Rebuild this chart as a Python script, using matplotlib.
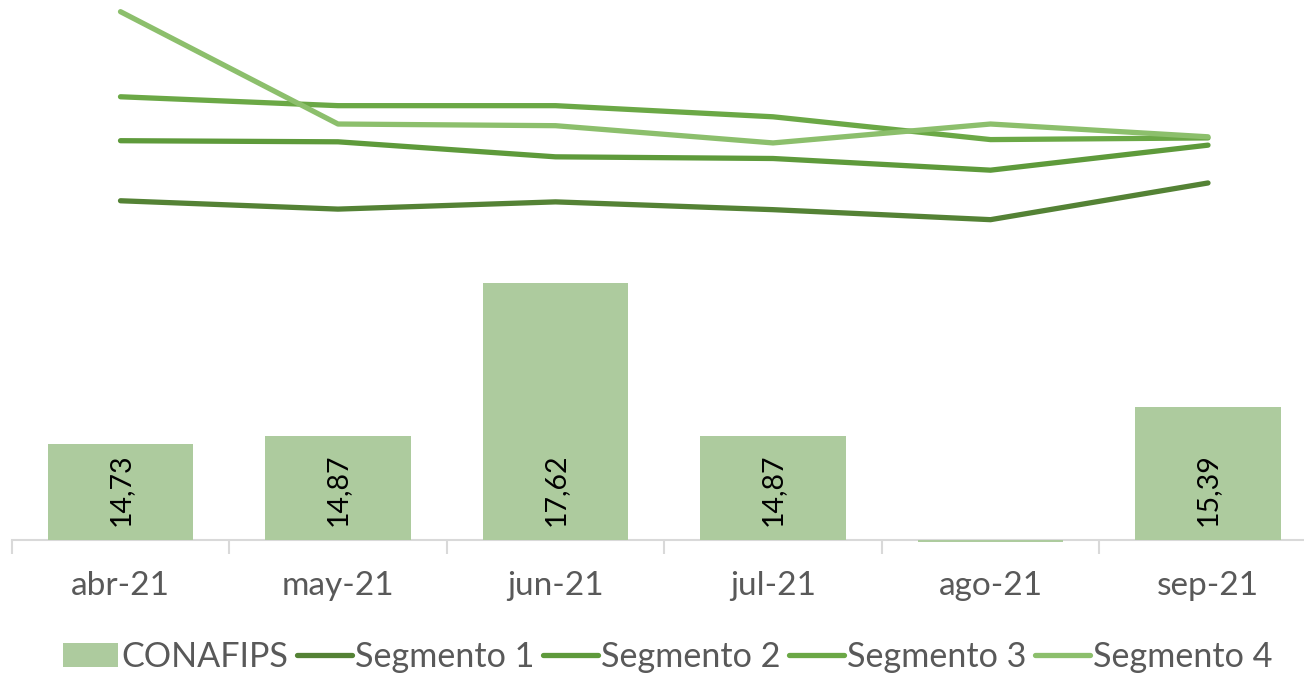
import numpy as np
import matplotlib
matplotlib.use("Agg")
import matplotlib.pyplot as plt

# data (bars start at the axis minimum of 13)
months = ["abr-21", "may-21", "jun-21", "jul-21", "ago-21", "sep-21"]
conafips = [14.73, 14.87, 17.62, 14.87, 12.96, 15.39]
conafips_labels = ["14,73", "14,87", "17,62", "14,87", "", "15,39"]
seg1 = [19.10, 18.95, 19.08, 18.94, 18.76, 19.42]
seg2 = [20.18, 20.16, 19.89, 19.86, 19.65, 20.10]
seg3 = [20.97, 20.81, 20.81, 20.61, 20.20, 20.23]
seg4 = [22.50, 20.48, 20.45, 20.14, 20.48, 20.25]

Y_MIN, Y_MAX = 13.0, 22.71
BAR_COLOR = "#adcb9e"
SEG_COLORS = ["#548235", "#5e9a3b", "#6ba846", "#8cbf6c"]
TEXT_COLOR = "#595959"
GRID_COLOR = "#d9d9d9"

plt.rcParams["font.family"] = ["Lato", "DejaVu Sans"]

W, H = 1304, 675
fig = plt.figure(figsize=(W / 100, H / 100), dpi=100)
ax = fig.add_axes([11.75 / W, 135 / H, 1305 / W, 540 / H])

x = np.arange(len(months))
vals = np.array(conafips)
bars = ax.bar(x, vals - Y_MIN, bottom=Y_MIN, width=0.667, color=BAR_COLOR,
              label="CONAFIPS", zorder=2, clip_on=False)

for xi, lab in zip(x, conafips_labels):
    if lab:
        ax.text(xi, Y_MIN + 0.26, lab, rotation=90, ha="center", va="bottom",
                fontsize=20.5, color="black", zorder=3)

lines = []
for name, ys, col in zip(["Segmento 1", "Segmento 2", "Segmento 3", "Segmento 4"],
                         [seg1, seg2, seg3, seg4], SEG_COLORS):
    ln, = ax.plot(x, ys, color=col, lw=3.8, label=name, zorder=4,
                  solid_capstyle="round", clip_on=False)
    lines.append(ln)

ax.set_xlim(-0.5, len(months) - 0.5)
ax.set_ylim(Y_MIN, Y_MAX)
for s in ["top", "left", "right"]:
    ax.spines[s].set_visible(False)
ax.spines["bottom"].set_color(GRID_COLOR)
ax.spines["bottom"].set_linewidth(1.5)
ax.spines["bottom"].set_zorder(1)
ax.set_yticks([])

ax.set_xticks(x)
ax.set_xticklabels(months, fontsize=24, color=TEXT_COLOR)
ax.tick_params(axis="x", which="major", length=0, pad=22)
ax.set_xticks(np.arange(-0.5, len(months), 1.0), minor=True)
ax.tick_params(axis="x", which="minor", length=10, width=1.5, color=GRID_COLOR)

handles = [bars] + lines
labels = [h.get_label() for h in handles]
leg = fig.legend(handles, labels, loc="center", ncol=5,
                 bbox_to_anchor=(668 / W, 1 - 657 / H), frameon=False,
                 fontsize=24.6, handlelength=1.6, handleheight=0.7,
                 handletextpad=0.1, columnspacing=0.25, borderpad=0)
for t in leg.get_texts():
    t.set_color(TEXT_COLOR)

fig.savefig("out.png", dpi=100)
